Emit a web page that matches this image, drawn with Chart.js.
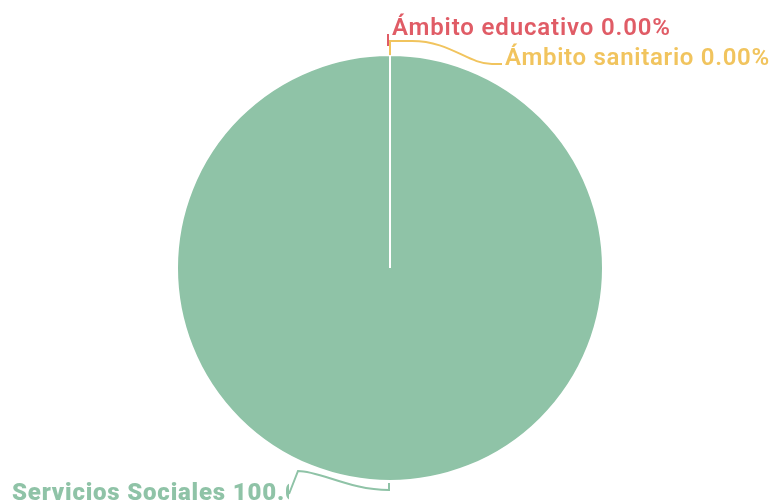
<!DOCTYPE html>
<html>
<head>
<meta charset="utf-8">
<script src="https://cdn.jsdelivr.net/npm/chart.js@4"></script>
<style>
  html, body { margin: 0; padding: 0; background: #fff; }
  #pieCanvas { display: block; }
</style>
</head>
<body>
<canvas id="pieCanvas" width="775" height="504"></canvas>
<script>
const categories = ['Ámbito educativo', 'Ámbito sanitario', 'Servicios Sociales'];
const percentages = [0, 0, 100];
const sliceColors = ['#e05c66', '#f1c45e', '#8fc3a7'];

// leader line + label layout, offsets relative to the slice's outer anchor point
const labelLayout = [
    {
        font: '600 24px Roboto',
        spacing: '0.85px',
        path: [['M', -2, -9], ['L', -2, -21]],
        text: { dx: 2, dy: -20 }
    },
    {
        font: '600 24px Roboto',
        spacing: '0.7px',
        path: [['M', 0, 0], ['L', 0, -14], ['L', 22, -14], ['C', 60, -14, 78, 9, 102, 9], ['L', 112, 9]],
        text: { dx: 115, dy: 10 }
    },
    {
        font: '900 24px Roboto',
        spacing: '0.8px',
        path: [['M', -1, 2], ['L', -1, 9], ['C', -40, 9, -70, -10, -92, -10], ['L', -101, 13]],
        text: { x: 12, dy: 19, clipDx: -101 }
    }
];

const outLabels = {
    id: 'outLabels',
    afterDatasetsDraw(chart) {
        const ctx = chart.ctx;
        const meta = chart.getDatasetMeta(0);
        meta.data.forEach((arc, i) => {
            const p = arc.getProps(['x', 'y', 'startAngle', 'endAngle', 'outerRadius'], true);
            const mid = (p.startAngle + p.endAngle) / 2;
            const ax = p.x + Math.cos(mid) * p.outerRadius;
            const ay = p.y + Math.sin(mid) * p.outerRadius;
            const lay = labelLayout[i];
            const color = sliceColors[i];

            ctx.save();
            ctx.strokeStyle = color;
            ctx.lineWidth = 2;
            ctx.beginPath();
            lay.path.forEach(seg => {
                if (seg[0] === 'M') ctx.moveTo(ax + seg[1], ay + seg[2]);
                else if (seg[0] === 'L') ctx.lineTo(ax + seg[1], ay + seg[2]);
                else ctx.bezierCurveTo(ax + seg[1], ay + seg[2], ax + seg[3], ay + seg[4], ax + seg[5], ay + seg[6]);
            });
            ctx.stroke();

            const txt = categories[i] + ' ' + percentages[i].toFixed(2) + '%';
            const tx = lay.text.x !== undefined ? lay.text.x : ax + lay.text.dx;
            const ty = ay + lay.text.dy;
            if (lay.text.clipDx !== undefined) {
                ctx.beginPath();
                ctx.rect(0, 0, ax + lay.text.clipDx, chart.height);
                ctx.clip();
            }
            ctx.font = lay.font;
            ctx.letterSpacing = lay.spacing;
            ctx.fillStyle = color;
            ctx.textAlign = 'left';
            ctx.textBaseline = 'alphabetic';
            ctx.fillText(txt, tx, ty);
            ctx.restore();
        });
    }
};

const pieChart = new Chart(document.getElementById('pieCanvas').getContext('2d'), {
    type: 'pie',
    data: {
        labels: categories,
        datasets: [{
            data: percentages,
            backgroundColor: sliceColors,
            borderColor: '#ffffff',
            borderWidth: 2
        }]
    },
    options: {
        responsive: false,
        animation: false,
        layout: { padding: { top: 54, bottom: 22, left: 5, right: 0 } },
        plugins: {
            legend: { display: false },
            tooltip: { enabled: false }
        }
    },
    plugins: [outLabels]
});
</script>
</body>
</html>
